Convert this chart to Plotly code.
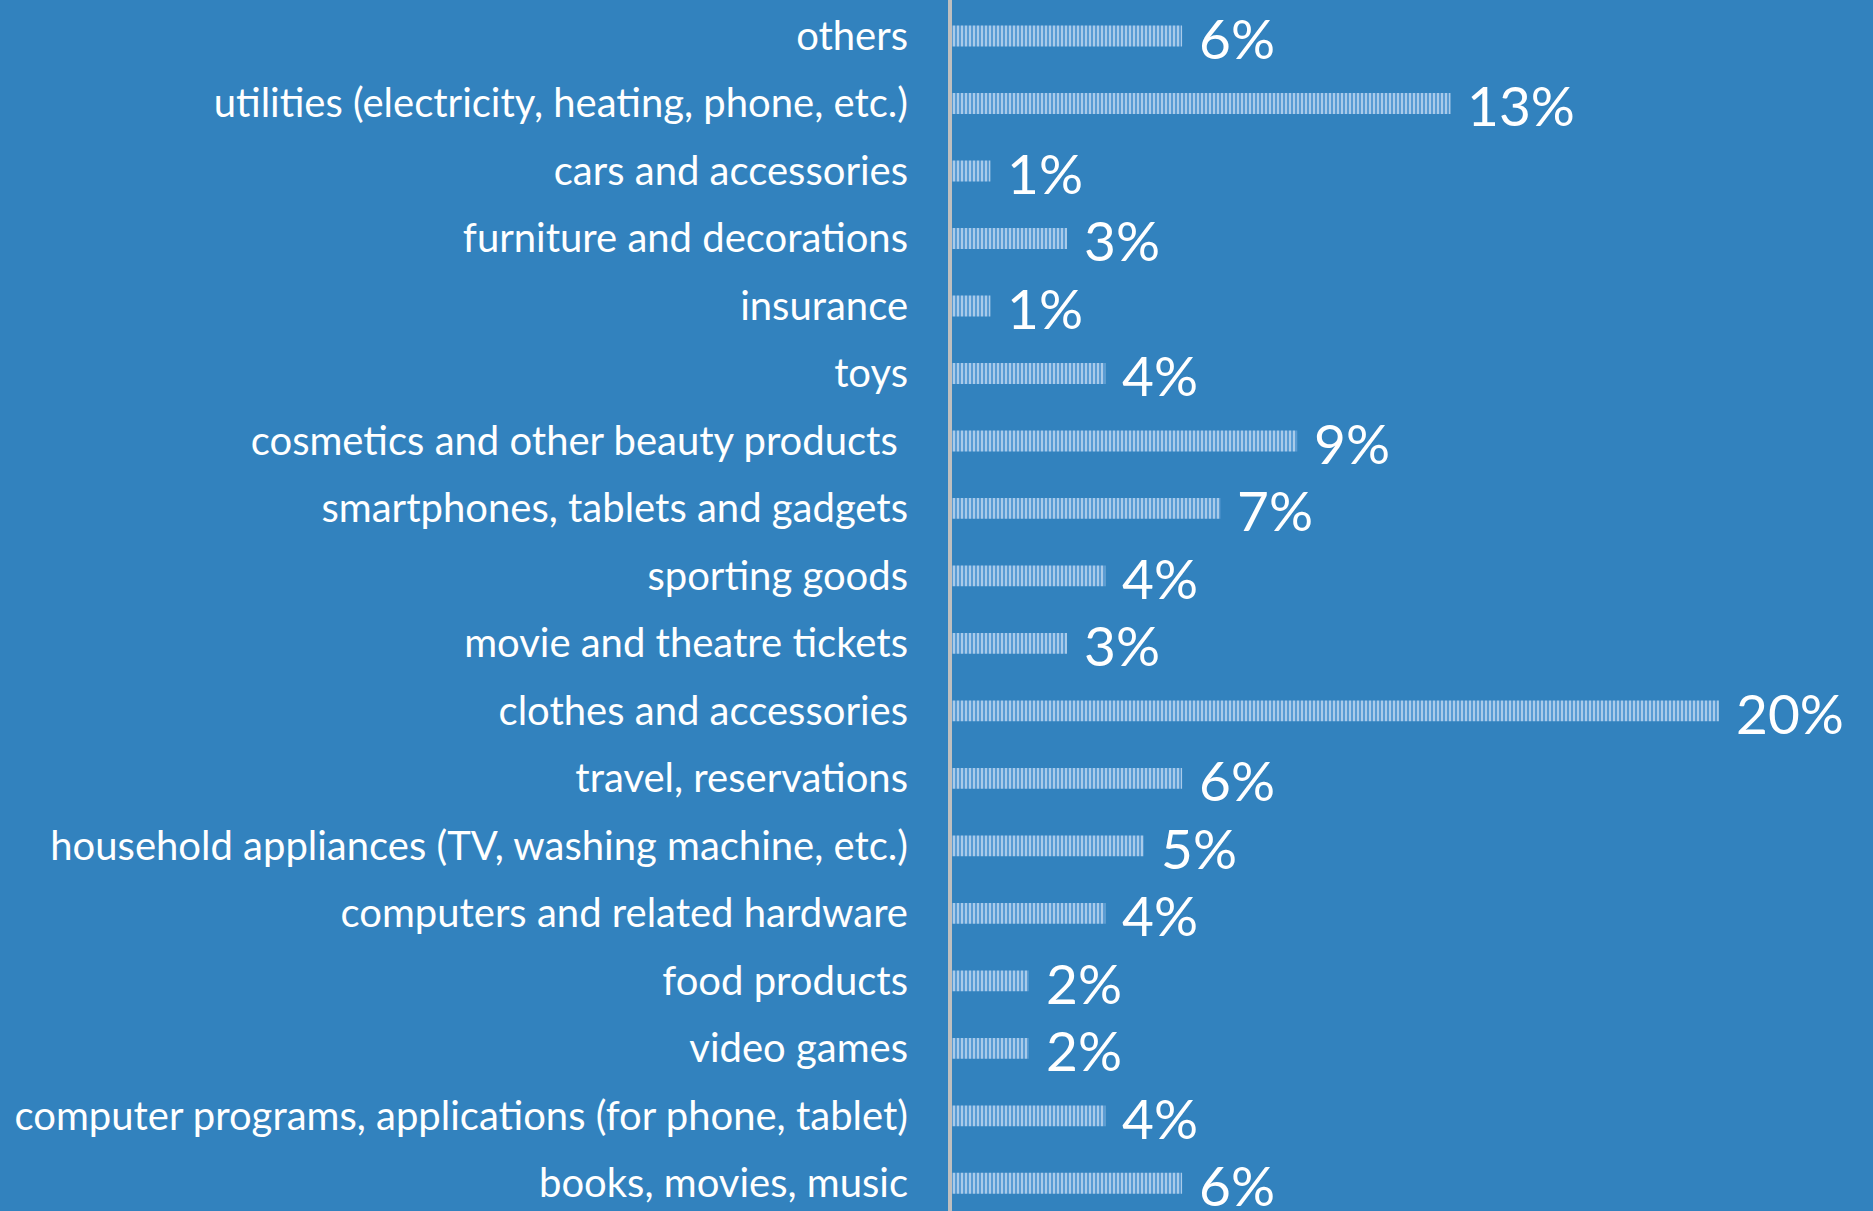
import plotly.graph_objects as go

categories = [
    "others",
    "utilities (electricity, heating, phone, etc.)",
    "cars and accessories",
    "furniture and decorations",
    "insurance",
    "toys",
    "cosmetics and other beauty products ",
    "smartphones, tablets and gadgets",
    "sporting goods",
    "movie and theatre tickets",
    "clothes and accessories",
    "travel, reservations",
    "household appliances (TV, washing machine, etc.)",
    "computers and related hardware",
    "food products",
    "video games",
    "computer programs, applications (for phone, tablet)",
    "books, movies, music",
]
shares = [6, 13, 1, 3, 1, 4, 9, 7, 4, 3, 20, 6, 5, 4, 2, 2, 4, 6]

BG = "#3282BE"
FONT = "Lato"

fig = go.Figure()
fig.add_trace(go.Bar(
    x=shares,
    y=categories,
    orientation="h",
    width=0.31,
    marker=dict(
        color="#5A9CD4",
        line=dict(width=0),
        pattern=dict(shape="|", fgcolor="#B2D0EC", bgcolor="#5A9CD4",
                     size=4, solidity=0.45, fillmode="replace"),
    ),
    hoverinfo="skip",
))

for c, v in zip(categories, shares):
    fig.add_annotation(
        x=v, y=c, text=f"{v}%", showarrow=False,
        xanchor="left", yanchor="middle", xshift=15, yshift=-2,
        font=dict(family=FONT, size=55, color="white"),
    )

fig.update_layout(
    width=1873, height=1211,
    margin=dict(l=952, r=0, t=0, b=0),
    paper_bgcolor=BG, plot_bgcolor=BG,
    showlegend=False,
    xaxis=dict(range=[0, 24.02], visible=False, fixedrange=True),
    yaxis=dict(
        categoryorder="array", categoryarray=categories,
        range=[17.41, -0.533],
        showgrid=False, zeroline=False,
        showline=True, linecolor="#BFBFBF", linewidth=4,
        ticks="", ticklabelstandoff=32,
        tickfont=dict(family=FONT, size=40, color="white"),
        automargin=False,
    ),
)

fig.write_html("out.html")
